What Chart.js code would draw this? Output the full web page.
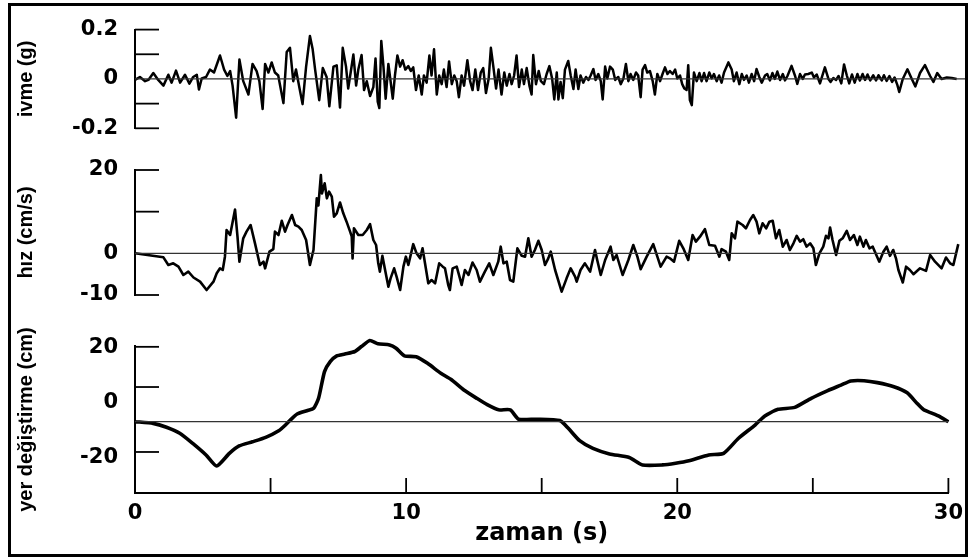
<!DOCTYPE html>
<html>
<head>
<meta charset="utf-8">
<script src="https://cdn.jsdelivr.net/npm/chart.js@4.4.1/dist/chart.umd.min.js"></script>
<style>
  html, body { margin: 0; padding: 0; background: #fff; }
  #wrap { position: relative; width: 971px; height: 558px; overflow: hidden; background: #fff; }
  #wrap canvas { position: absolute; left: 0; top: 0; }
  #frame { position: absolute; left: 8px; top: 3px; width: 960px; height: 554px; border: 3px solid #000; box-sizing: border-box; pointer-events: none; }
</style>
</head>
<body>
<div id="wrap">
  <canvas id="accel" width="971" height="558"></canvas>
  <canvas id="vel" width="971" height="558"></canvas>
  <canvas id="disp" width="971" height="558"></canvas>
  <div id="frame"></div>
</div>
<script>
// ivme (g) - peaks and troughs
var accelTime = [0,0.18,0.37,0.49,0.67,0.85,1.04,1.22,1.34,1.5,1.65,1.83,1.99,2.13,2.26,2.34,2.44,2.6,2.74,2.89,3.11,3.26,3.38,3.48,3.57,3.7,3.82,3.96,4.15,4.3,4.45,4.55,4.67,4.76,4.88,5,5.12,5.24,5.43,5.55,5.67,5.79,5.89,6.01,6.13,6.26,6.4,6.5,6.59,6.74,6.87,7.01,7.11,7.26,7.38,7.5,7.6,
  7.72,7.8,7.89,7.99,8.09,8.17,8.29,8.38,8.48,8.6,8.72,8.8,8.88,8.94,9.01,9.09,9.17,9.27,9.35,9.43,9.51,9.6,9.7,9.79,9.89,10,10.09,10.18,10.28,10.38,10.49,10.57,10.67,10.77,10.85,10.94,11.04,11.13,11.22,11.3,11.4,11.49,11.59,11.68,11.77,11.85,11.95,12.04,12.16,12.26,12.35,12.45,12.55,12.65,12.74,12.84,12.94,13.02,13.11,13.21,13.3,13.41,13.51,13.6,13.7,13.78,13.87,13.96,14.05,14.15,14.23,14.33,14.43,14.51,14.57,14.67,14.77,14.85,14.96,15.06,15.16,15.26,15.34,
  15.43,15.49,15.57,15.65,15.73,15.85,15.94,16.04,16.12,16.22,16.3,16.4,16.5,16.59,16.67,16.77,16.85,16.95,17.04,17.11,17.2,17.28,17.38,17.48,17.57,17.68,17.77,17.87,17.96,18.05,18.13,18.23,18.33,18.41,18.5,18.57,18.66,18.74,18.84,18.94,19.02,19.11,19.21,19.3,19.39,19.48,19.57,19.67,19.76,19.84,19.94,20.02,20.1,20.18,20.24,20.3,20.37,20.45,20.55,20.65,20.73,20.82,20.91,21.01,21.1,21.18,21.28,21.37,21.46,21.55,21.71,21.83,21.91,22.01,22.11,22.2,22.28,22.38,22.46,22.56,22.65,22.74,22.84,22.93,23.05,
  23.13,23.23,23.32,23.41,23.5,23.6,23.7,23.78,23.87,24.02,24.15,24.23,24.33,24.43,24.51,24.63,24.76,24.84,24.94,25.06,25.24,25.37,25.45,25.55,25.65,25.74,25.84,25.94,26.04,26.13,26.23,26.33,26.43,26.52,26.62,26.71,26.8,26.9,27.01,27.11,27.2,27.32,27.4,27.5,27.6,27.7,27.79,27.89,27.96,28.09,28.26,28.42,28.55,28.72,28.9,29.09,29.21,29.35,29.51,29.7,29.88,30.06,30.43];
var accelG = [-0.004,0.008,-0.009,-0.004,0.024,-0.004,-0.027,0.017,-0.015,0.034,-0.015,0.017,-0.019,0.008,0.017,-0.043,0.002,0.008,0.038,0.026,0.095,0.038,0.012,0.032,-0.027,-0.157,0.079,-0.009,-0.063,0.061,0.032,-0.009,-0.122,0.061,0.026,0.067,0.026,0.014,-0.098,0.109,0.126,-0.009,0.038,-0.033,-0.102,0.05,0.174,0.12,0.038,-0.086,0.044,0.008,-0.111,0.05,0.055,-0.116,0.126,
  0.05,-0.039,0.026,0.099,-0.027,0.038,0.097,-0.045,-0.009,-0.069,-0.033,0.083,-0.092,-0.118,0.154,0.05,-0.08,0.061,-0.009,-0.08,0.014,0.095,0.05,0.076,0.038,0.052,0.032,0.047,-0.045,0.014,-0.063,0.014,-0.015,0.095,0.014,0.12,-0.063,0.014,-0.021,0.038,-0.033,0.071,-0.021,0.014,-0.009,-0.074,0.014,-0.027,0.076,-0.009,-0.045,0.038,-0.045,0.026,0.044,-0.057,0.002,0.126,0.05,-0.039,0.038,-0.063,0.026,-0.027,0.02,-0.021,0.014,0.095,-0.033,0.038,-0.021,0.044,-0.027,-0.063,0.097,-0.021,0.032,-0.009,-0.021,0.02,0.052,0.002,-0.083,
  0.026,-0.083,-0.012,-0.078,0.038,0.073,0.014,-0.041,0.038,-0.041,0.014,-0.015,0.008,-0.004,0.014,0.04,-0.004,0.02,-0.009,-0.083,0.05,0.002,0.05,0.038,-0.004,0.008,-0.021,0.002,0.061,-0.009,0.02,-0.004,0.026,0.014,-0.074,0.038,0.056,0.026,0.032,-0.009,-0.063,0.02,-0.009,0.02,0.047,0.02,0.032,0.02,0.038,0.002,0.014,-0.021,-0.039,-0.045,0.056,-0.086,-0.106,0.026,-0.009,0.024,-0.009,0.024,-0.009,0.026,0.002,0.02,-0.009,0.014,-0.015,0.026,0.067,0.038,-0.009,0.026,-0.021,0.02,-0.004,0.014,-0.015,0.02,-0.009,0.04,0.008,-0.015,0.014,
  0.02,-0.006,0.024,0,0.03,-0.004,0.02,-0.006,0.012,0.053,0.012,-0.02,0.02,0,0.018,0.02,0.026,0.006,0.018,-0.018,0.047,0,-0.012,0.004,-0.004,0.012,-0.018,0.059,0.015,-0.018,0.018,-0.015,0.02,-0.006,0.02,-0.004,0.018,-0.006,0.015,-0.006,0.015,-0.006,0.015,-0.008,0.012,-0.012,0.006,-0.024,-0.053,0,0.039,0,-0.03,0.024,0.056,0.012,-0.012,0.024,0,0.006,0.004,0,0];

// hız (cm/s)
var velTime = [0,1.04,1.22,1.4,1.59,1.77,1.95,2.14,2.38,2.62,2.87,2.99,3.11,3.21,3.29,3.35,3.48,3.66,3.75,3.82,3.96,4.08,4.23,4.39,4.57,4.7,4.76,4.92,5.06,5.12,5.25,5.37,5.49,5.58,5.74,5.86,5.98,6.1,6.26,6.4,6.53,6.65,6.71,6.8,6.84,6.94,7.02,7.1,7.2,7.28,7.38,7.5,7.62,7.74,7.87,7.93,7.96,8.01,8.17,8.33,8.48,8.6,8.72,8.82,8.9,8.96,9.05,9.15,9.27,9.35,9.48,9.57,9.7,9.82,9.91,10,10.18,10.3,10.43,10.52,10.61,10.73,10.85,10.98,11.13,11.26,11.34,11.46,11.52,11.62,11.77,11.87,11.95,12.07,12.2,12.35,12.5,12.62,12.8,12.96,13.11,13.29,13.38,13.48,13.6,13.72,13.84,13.99,14.15,14.27,14.39,14.51,14.63,14.76,14.88,15,15.12,15.21,15.37,15.61,15.79,15.94,16.1,16.16,16.3,16.46,16.65,16.83,16.91,17.04,17.2,17.4,17.5,17.62,17.84,18.05,18.23,18.38,18.5,18.72,18.96,19.23,19.45,19.57,19.72,19.91,20.06,20.24,20.4,20.52,20.67,20.85,21.01,21.22,21.38,21.46,21.62,21.74,21.83,21.95,22.04,22.23,22.35,22.5,22.62,22.74,22.84,22.96,23.09,23.21,23.33,23.45,23.57,23.7,23.84,23.96,24.09,24.21,24.33,24.45,24.57,24.7,24.82,24.91,25.04,25.18,25.28,25.37,25.43,25.52,25.65,25.77,25.89,26.04,26.16,26.3,26.43,26.52,26.65,26.74,26.87,26.99,27.07,27.23,27.38,27.5,27.62,27.74,27.84,27.93,28.09,28.21,28.35,28.48,28.72,28.94,29.09,29.27,29.51,29.67,29.82,29.94,30.12];
var velCms = [0,-0.96,-2.8,-2.4,-3.2,-5.2,-4.4,-5.8,-6.8,-8.8,-6.8,-4.8,-3.6,-4,-0.8,5.6,4.4,10.5,4,-2,3.6,5.2,6.8,2.4,-2.8,-2,-3.6,0.4,1,5.2,4.4,7.8,5.2,6.8,9.2,6.8,6.4,5.6,3.2,-2.8,0.8,13.2,11.5,18.8,14.4,16.8,13.2,14.8,13.6,8.8,9.6,12.2,9.6,7.6,5.2,4,-1.2,6,4.4,4.4,5.6,7,3.2,2,-2.4,-4.4,-0.6,-4,-8,-6,-3.6,-5.6,-8.8,-3.2,-0.8,-2.8,2.2,0,-1.2,1.2,-2.4,-7.2,-6.4,-7.2,-2.4,-3.2,-3.6,-7.6,-8.8,-3.6,-3.2,-5.6,-7.6,-4,-5.2,-2.2,-4,-6.8,-4.4,-2.4,-5.2,-2,1.6,-2.4,-2,-6.4,-6.8,1.2,-0.6,-0.8,3.6,-0.8,0.8,3,0.8,-2.8,-1.2,0.4,-4,-9.2,-6,-3.6,-5.6,-6.8,-4,-2.4,-4.4,0.8,-1.6,-5.2,-1.6,1.6,-1.6,-0.4,-5.2,-1.6,2,-0.8,-3.8,-0.8,2.2,-3.2,-0.8,-1.2,-2,3,1.2,-1.6,4.4,2.8,4,5.8,2,1.8,-0.8,1,0.4,-1.6,4.8,3.6,7.6,6.8,6,8,9.2,7.6,4.8,7.2,6,7.6,7.8,3.6,5.6,1.6,3.2,0.8,2.4,4.2,2.8,3.4,1.6,2.4,1.2,-2.8,0,1.6,4.2,3.6,6.2,3.2,-0.4,3,3.6,5.4,3.2,4.4,2,4,1.6,3.2,1.2,1.6,0.4,-2,0.4,1.6,-0.6,0.8,-1.2,-4,-7,-3.2,-4,-5,-3.6,-4.2,-0.4,-2,-3.6,-1,-2.4,-2.8,2.2];

// yer değiştirme (cm), read against the printed labels 20 / 0 / -20
var dispTime = [0,0.67,1.16,1.65,2.13,2.62,3.01,3.48,3.84,4.33,4.82,5.3,5.55,5.73,5.98,6.34,6.59,6.77,6.99,7.2,7.44,7.74,8.11,8.35,8.66,8.96,9.39,9.63,9.94,10.37,10.79,11.28,11.65,12.13,12.62,12.99,13.41,13.84,14.15,14.82,15.67,15.98,16.4,16.89,17.5,18.23,18.72,19.45,19.94,20.43,21.16,21.71,22.26,22.87,23.23,23.72,24.33,24.94,25.55,26.04,26.4,26.89,27.38,27.99,28.48,28.84,29.09,29.39,29.63,30];
var dispCm = [-6.8,-7.4,-8.8,-11,-14.7,-18.9,-22.9,-18.3,-15.6,-14.1,-12.5,-10.1,-8,-6.2,-4,-2.8,-1.9,1.7,11.4,15,17.1,17.8,18.7,20.5,22.7,21.5,21.1,19.9,17.1,16.8,14.4,10.8,8.6,4.7,1.6,-0.6,-2.5,-2.5,-5.9,-5.9,-6.4,-9.2,-13.7,-16.5,-18.5,-19.8,-22.5,-22.5,-21.9,-21,-18.9,-18.3,-12.8,-8,-4.7,-2.3,-1.6,1.7,4.5,6.5,8,8.1,7.4,5.9,3.7,-0.1,-2.5,-3.7,-4.7,-6.8];

// axis labels and tick marks
var accelTicks = [0.2, 0, -0.2];
var accelMarks = [0.2, 0.1, -0.1, -0.2];
var velTicks = [20, 0, -10];
var velMarks = [20, 10, -10];
var dispTicks = [20, 0, -20];
var dispMarks = [20.4, 5.8, -17.8];
var timeLabels = [0, 10, 20, 30];
var timeMarks = [5, 10, 15, 20, 25, 30];

// horizontal reference lines
var accelBase = { from: 0, to: 30.43, level: 0 };
var velBase = { from: 0, to: 30.07, level: 0 };
var dispBase = { from: 0, to: 30, level: -6.8 };

function toPoints(xs, ys) {
  return xs.map(function (x, i) { return { x: x, y: ys[i] }; });
}

var innerTicks = {
  id: 'innerTicks',
  afterDraw: function (chart, args, opts) {
    var ctx = chart.ctx, area = chart.chartArea;
    ctx.save();
    ctx.strokeStyle = '#000';
    ctx.lineWidth = 1.8;
    (opts.y || []).forEach(function (v) {
      var py = chart.scales.y.getPixelForValue(v);
      ctx.beginPath();
      ctx.moveTo(area.left, py);
      ctx.lineTo(area.left + opts.yLen, py);
      ctx.stroke();
    });
    (opts.x || []).forEach(function (v) {
      var px = chart.scales.x.getPixelForValue(v);
      ctx.beginPath();
      ctx.moveTo(px, area.bottom);
      ctx.lineTo(px, area.bottom - opts.xLen);
      ctx.stroke();
    });
    ctx.restore();
  }
};

var tickFont = { family: 'DejaVu Sans', size: 21, weight: 'bold' };
var titleFont = { family: "'Liberation Sans', Arial", size: 20, weight: 'bold' };

function panel(id, p) {
  var xScale = {
    type: 'linear',
    min: 0,
    max: 30,
    display: p.showX,
    afterBuildTicks: function (s) {
      s.ticks = timeLabels.map(function (v) { return { value: v }; });
    },
    grid: { display: false, drawTicks: false },
    border: { display: true, color: '#000', width: 2 },
    ticks: { color: '#000', font: tickFont, padding: 8, maxRotation: 0 },
    title: {
      display: true,
      text: 'zaman (s)',
      color: '#000',
      font: { family: 'DejaVu Sans', size: 24, weight: 'bold' },
      padding: { top: 0, bottom: 10 }
    }
  };
  if (p.showX) {
    xScale.afterFit = function (s) { s.height = 65; };
  }
  return new Chart(document.getElementById(id), {
    type: 'line',
    data: {
      datasets: [
        {
          data: [{ x: p.base.from, y: p.base.level }, { x: p.base.to, y: p.base.level }],
          borderColor: '#333',
          borderWidth: 1.3,
          pointRadius: 0,
          clip: false
        },
        {
          data: p.points,
          borderColor: '#000',
          borderWidth: p.lineWidth,
          pointRadius: 0,
          tension: p.tension,
          borderJoinStyle: 'round',
          clip: false
        }
      ]
    },
    options: {
      responsive: false,
      animation: false,
      devicePixelRatio: 1,
      layout: { padding: { left: 0, right: 16, top: p.top, bottom: p.bottom } },
      plugins: {
        legend: { display: false },
        tooltip: { enabled: false },
        innerTicks: { y: p.marks, yLen: 24, x: p.xMarks || [], xLen: 15 }
      },
      scales: {
        x: xScale,
        y: {
          min: p.min,
          max: p.max,
          afterFit: function (s) { s.width = 135; },
          afterBuildTicks: function (s) {
            s.ticks = p.ticks.map(function (v) { return { value: v }; });
          },
          grid: { display: false, drawTicks: false },
          border: { display: true, color: '#000', width: 2 },
          ticks: { color: '#000', font: tickFont, padding: 17 },
          title: {
            display: true,
            text: p.title,
            color: '#000',
            font: titleFont,
            padding: { top: 14, bottom: 0 }
          }
        }
      }
    },
    plugins: [innerTicks]
  });
}

panel('accel', {
  points: toPoints(accelTime, accelG), base: accelBase, lineWidth: 2.5, tension: 0,
  min: -0.2, max: 0.2, ticks: accelTicks, marks: accelMarks,
  title: 'ivme (g)', top: 15.7, bottom: 429.7, showX: false
});
panel('vel', {
  points: toPoints(velTime, velCms), base: velBase, lineWidth: 2.6, tension: 0,
  min: -10, max: 20, ticks: velTicks, marks: velMarks,
  title: 'hız (cm/s)', top: 170, bottom: 263, showX: false
});
panel('disp', {
  points: toPoints(dispTime, dispCm), base: dispBase, lineWidth: 3.6, tension: 0.2,
  min: -32.7, max: 20.7, ticks: dispTicks, marks: dispMarks, xMarks: timeMarks,
  title: 'yer değiştirme (cm)', top: 346, bottom: 0, showX: true
});
</script>
</body>
</html>
